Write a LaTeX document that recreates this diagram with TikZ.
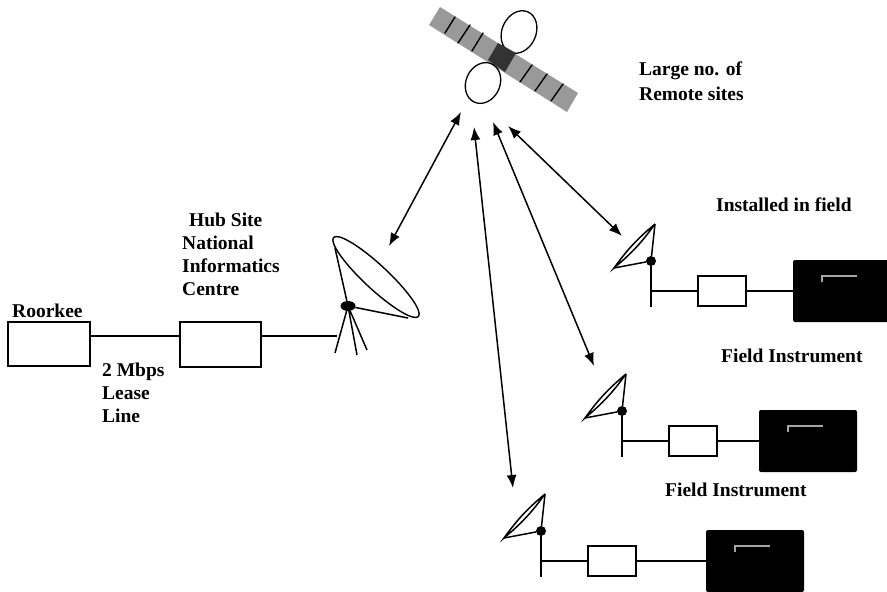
\documentclass[tikz,border=0pt]{standalone}
\usepackage{fontspec}
\setmainfont{Liberation Serif}
\usetikzlibrary{arrows.meta,shapes.geometric}
\definecolor{panelgray}{gray}{0.6}
\definecolor{bodygray}{gray}{0.2}
\definecolor{markgray}{gray}{0.65}
\tikzset{
  sitelabel/.style={font=\fontsize{19.5}{23}\selectfont\bfseries, align=left, anchor=west, inner sep=0pt},
  unitbox/.style={draw, line width=1.4pt, fill=white, inner sep=0pt, outer sep=0pt, anchor=north west},
  instrbox/.style={fill=black, rounded corners=2pt, inner sep=0pt, outer sep=0pt, anchor=north west, minimum width=98pt},
  feed/.style={circle, fill=black, inner sep=0pt, minimum size=10pt},
  wire/.style={line width=1.5pt},
  link/.style={<->, line width=1.5pt},
}
\begin{document}
\begin{tikzpicture}[x=1pt, y=-1pt, >={Latex[length=13pt,width=10pt]}]
    \useasboundingbox (0,0) rectangle (887,592);
    \clip (0,0) rectangle (887,592);

    % satellite
    \fill[panelgray] (440,7) -- (429,25) -- (567,112) -- (578,93) -- cycle;
    \draw[line width=1.4pt, line cap=round]
      (455,17) -- (445,33) (470,25) -- (458,43) (483,33) -- (472,51)
      (532,65) -- (520,82) (547,74) -- (535,91) (563,84) -- (551,101);
    \draw[line width=1.3pt] (519,32) ellipse [x radius=22, y radius=17, rotate=66];
    \draw[line width=1.3pt] (483,83) ellipse [x radius=21, y radius=17, rotate=66];
    \fill[bodygray] (498,43) -- (516,53) -- (505,72) -- (488,60) -- cycle;

    % hub side
    \node[unitbox, minimum width=82pt, minimum height=44pt] (roorkee) at (8,322) {};
    \node[unitbox, minimum width=81pt, minimum height=45pt] (hubbox) at (180,322) {};
    \coordinate (hubline) at (0,336);
    \coordinate (legtee) at (337,336);
    \draw[wire] (roorkee.east |- hubline) -- (hubbox.west |- hubline);
    \draw[wire] (hubbox.east |- hubline) -- (legtee);

    \node[ellipse, draw, line width=1.4pt, rotate=-43, minimum width=116pt, minimum height=24pt, inner sep=0pt] (hubdish) at (376,277) {};
    \node[ellipse, fill=black, minimum width=15pt, minimum height=10pt, inner sep=0pt] (hubfeed) at (348,306) {};
    \draw[wire] (hubfeed) -- (335,248) (hubfeed) -- (408,318);
    \draw[wire] (hubfeed) -- (335,353) (hubfeed) -- (357,355) (hubfeed) -- (367,350);

    % remote sites
    \foreach \n/\px/\py/\bx in {a/651/291/793, b/622/441/759, c/541/561/706} {
      \coordinate (tee\n) at (\px,\py);
      \node[feed] (feed\n) at (\px,\py-30) {};
      \coordinate (foot\n) at (\px,\py+16);
      \coordinate (rimtop\n) at (\px+4,\py-67);
      \coordinate (rimbot\n) at (\px-37,\py-23);
      \node[unitbox, minimum width=48pt, minimum height=30pt] (box\n) at (\px+47,\py-15) {};
      \node[instrbox, minimum height=62pt] (instr\n) at (\bx,\py-31) {};
      \draw[wire] (feed\n) -- (foot\n);
      \draw[wire] (tee\n) -- (box\n.west);
      \draw[wire] (box\n.east) -- (box\n.east -| instr\n.west);
      \draw[wire] (rimtop\n) to[bend left=7] (rimbot\n) to[bend left=7] (rimtop\n);
      \draw[wire] (rimtop\n) -- (feed\n) -- (rimbot\n);
      \draw[markgray, line width=1.2pt] (\bx+29,\py-9) -- (\bx+29,\py-15) -- (\bx+64,\py-15);
    }

    % links
    \coordinate (sata) at (461,112);
    \coordinate (satb) at (508,126);
    \coordinate (satc) at (493,122);
    \coordinate (satd) at (474,127);
    \coordinate (hubend) at (389,246);
    \coordinate (enda) at (622,236);
    \coordinate (endb) at (594,366);
    \coordinate (endc) at (513,488);
    \draw[link] (sata) -- (hubend);
    \draw[link] (satb) -- (enda);
    \draw[link] (satc) -- (endb);
    \draw[link] (satd) -- (endc);

    % labels
    \node[sitelabel] (lroorkee) at (12,311) {Roorkee};
    \node[sitelabel] (llease) at (102,393) {2 Mbps\\Lease\\Line};
    \node[sitelabel] (lhub) at (182,254) {\hspace{7pt}Hub Site\\National\\Informatics\\Centre};
    \node[sitelabel] (lremote) at (639,81) {Large no. of\\[2pt]Remote sites};
    \node[sitelabel] (lfield) at (716,205) {Installed in field};
    \node[sitelabel] (linstra) at (721,356) {Field Instrument};
    \node[sitelabel] (linstrb) at (665,490) {Field Instrument};
\end{tikzpicture}
\end{document}
